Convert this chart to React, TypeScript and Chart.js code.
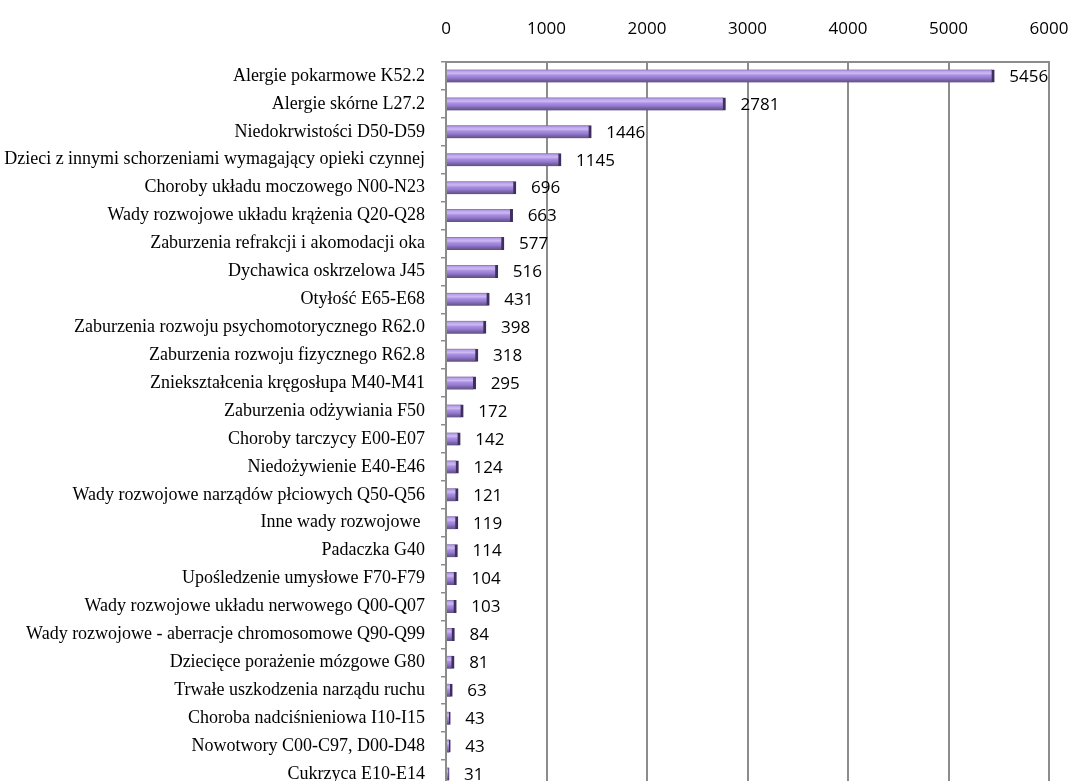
import React, { useEffect, useRef } from "react";
import { Chart, registerables } from "chart.js";

Chart.register(...registerables);

const categories: string[] = [
  "Alergie pokarmowe K52.2",
  "Alergie skórne L27.2",
  "Niedokrwistości D50-D59",
  "Dzieci z innymi schorzeniami wymagający opieki czynnej",
  "Choroby układu moczowego N00-N23",
  "Wady rozwojowe układu krążenia Q20-Q28",
  "Zaburzenia refrakcji i akomodacji oka",
  "Dychawica oskrzelowa J45",
  "Otyłość E65-E68",
  "Zaburzenia rozwoju psychomotorycznego R62.0",
  "Zaburzenia rozwoju fizycznego R62.8",
  "Zniekształcenia kręgosłupa M40-M41",
  "Zaburzenia odżywiania F50",
  "Choroby tarczycy E00-E07",
  "Niedożywienie E40-E46",
  "Wady rozwojowe narządów płciowych Q50-Q56",
  "Inne wady rozwojowe ",
  "Padaczka G40",
  "Upośledzenie umysłowe F70-F79",
  "Wady rozwojowe układu nerwowego Q00-Q07",
  "Wady rozwojowe - aberracje chromosomowe Q90-Q99",
  "Dziecięce porażenie mózgowe G80",
  "Trwałe uszkodzenia narządu ruchu",
  "Choroba nadciśnieniowa I10-I15",
  "Nowotwory C00-C97, D00-D48",
  "Cukrzyca E10-E14",
];

const values: number[] = [
  5456, 2781, 1446, 1145, 696, 663, 577, 516, 431, 398, 318, 295, 172, 142,
  124, 121, 119, 114, 104, 103, 84, 81, 63, 43, 43, 31,
];

const xTicks: number[] = [0, 1000, 2000, 3000, 4000, 5000, 6000];

const GRAY = "#8c8c8c";
const BAR_H = 13;
const CANVAS_W = 1072;
const CANVAS_H = 788;

const valueLabels = {
  id: "valueLabels",
  afterDatasetsDraw(chart: any) {
    const ctx = chart.ctx;
    const meta = chart.getDatasetMeta(0);
    ctx.save();
    ctx.font = '17px "Open Sans"';
    ctx.fillStyle = "#000";
    ctx.textAlign = "left";
    ctx.textBaseline = "middle";
    meta.data.forEach((el: any, i: number) => {
      ctx.fillText(String(values[i]), el.x + 15, el.y + 1);
    });
    ctx.restore();
  },
};

export default function App() {
  const ref = useRef<HTMLCanvasElement | null>(null);
  useEffect(() => {
    if (!ref.current) return;
    const chart = new Chart(ref.current, {
      type: "bar",
      data: {
        labels: categories,
        datasets: [
          {
            data: values,
            barThickness: BAR_H,
            backgroundColor: (c: any) => {
              const ch = c.chart;
              const ys = ch.scales && ch.scales.y;
              if (!ys || c.dataIndex === undefined) return "#9c80d8";
              const yc = ys.getPixelForValue(c.dataIndex);
              if (!isFinite(yc)) return "#9c80d8";
              const g = ch.ctx.createLinearGradient(0, yc - BAR_H / 2, 0, yc + BAR_H / 2);
              g.addColorStop(0, "#7f6aa8");
              g.addColorStop(0.12, "#b8a0ea");
              g.addColorStop(0.3, "#cdb9f4");
              g.addColorStop(0.45, "#a98fe2");
              g.addColorStop(0.65, "#957ad0");
              g.addColorStop(0.8, "#7b65a8");
              g.addColorStop(1, "#5e4f80");
              return g;
            },
            borderColor: "#3e2f5e",
            borderWidth: { top: 0, bottom: 0, left: 0, right: 3 },
            borderSkipped: "start",
          },
        ],
      },
      options: {
        indexAxis: "y",
        responsive: false,
        devicePixelRatio: 1,
        animation: false,
        layout: { padding: { top: 0, right: 23, bottom: 0, left: 0 } },
        plugins: {
          legend: { display: false },
          tooltip: { enabled: false },
          title: { display: false },
        },
        scales: {
          x: {
            position: "top",
            min: 0,
            max: 6000,
            afterFit: (s: any) => {
              s.height = 62;
              s.paddingLeft = 0;
              s.paddingRight = 0;
            },
            afterBuildTicks: (s: any) => {
              s.ticks = xTicks.map((v) => ({ value: v }));
            },
            ticks: {
              padding: 23,
              color: "#000",
              font: { family: "Open Sans", size: 17 },
              callback: (v: any) => String(v),
            },
            grid: {
              color: GRAY,
              lineWidth: 2,
              drawTicks: false,
            },
            border: { display: true, color: GRAY, width: 2 },
          },
          y: {
            afterFit: (s: any) => {
              s.width = 446;
              s.paddingTop = 0;
              s.paddingBottom = 0;
            },
            ticks: {
              padding: 16,
              color: "#000",
              autoSkip: false,
              font: { family: "Liberation Serif", size: 18 },
            },
            grid: {
              drawOnChartArea: false,
              drawTicks: true,
              tickLength: 5,
              tickColor: GRAY,
              lineWidth: 1.5,
              offset: true,
            },
            border: { display: true, color: GRAY, width: 2 },
          },
        },
      },
      plugins: [valueLabels],
    });
    return () => chart.destroy();
  }, []);
  return (
    <div style={{ position: "absolute", left: 0, top: 0, width: CANVAS_W, height: CANVAS_H }}>
      <canvas ref={ref} width={CANVAS_W} height={CANVAS_H} style={{ display: "block" }} />
    </div>
  );
}
